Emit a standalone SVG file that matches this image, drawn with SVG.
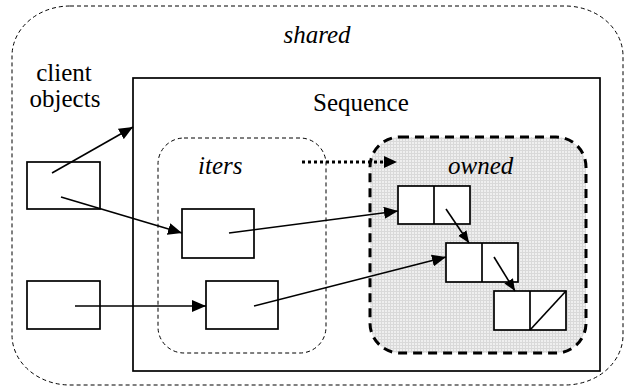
<svg xmlns="http://www.w3.org/2000/svg" width="626" height="387" viewBox="0 0 626 387">
  <style>
    text { font-family: "Liberation Serif", "Times New Roman", Times, serif; font-size: 25px; fill: #000; }
    .it { font-style: italic; }
    .box { fill: #fff; stroke: #000; stroke-width: 1.7; }
    .cell { fill: none; stroke: #000; stroke-width: 1.7; }
    .conn { fill: none; stroke: #000; stroke-width: 1.6; marker-end: url(#head); }
    .conn.short { marker-end: url(#headSmall); }
  </style>
  <defs>
    <marker id="head" viewBox="0 0 14 12" refX="14" refY="6" markerWidth="14" markerHeight="12" markerUnits="userSpaceOnUse" orient="auto">
      <path d="M0,0 L14,6 L0,12 z" fill="#000"/>
    </marker>
    <marker id="headSmall" viewBox="0 0 12 12" refX="12" refY="6" markerWidth="12" markerHeight="12" markerUnits="userSpaceOnUse" orient="auto">
      <path d="M0,1 L12,6 L0,11 z" fill="#000"/>
    </marker>
    <!-- fine grey screen used behind the owned nodes -->
    <pattern id="grid" width="3" height="3" patternUnits="userSpaceOnUse">
      <rect width="3" height="3" fill="#efefef"/>
      <path d="M0,0.5 H3 M0.5,0 V3" stroke="#d9d9d9" stroke-width="1"/>
    </pattern>
  </defs>

  <!-- shared region -->
  <g id="shared">
    <rect x="12" y="6" width="611" height="379" rx="58" ry="50" fill="none" stroke="#000" stroke-width="1" stroke-dasharray="4,3"/>
    <text class="it" x="317" y="43" text-anchor="middle">shared</text>
  </g>

  <!-- client objects -->
  <g id="client-objects">
    <text x="64" y="81" text-anchor="middle">client</text>
    <text x="65" y="107" text-anchor="middle">objects</text>
    <rect id="client1" class="box" x="27" y="162" width="73" height="47"/>
    <rect id="client2" class="box" x="27" y="281" width="73" height="48"/>
  </g>

  <!-- Sequence object -->
  <g id="sequence">
    <rect x="133" y="78" width="467" height="293" fill="none" stroke="#000" stroke-width="1.7"/>
    <text x="313" y="111">Sequence</text>
  </g>

  <!-- iterators -->
  <g id="iters">
    <rect x="158" y="138" width="168" height="215" rx="26" ry="26" fill="none" stroke="#000" stroke-width="1" stroke-dasharray="4,3"/>
    <text class="it" x="198" y="174">iters</text>
    <rect id="iter1" class="box" x="182" y="209" width="72" height="49"/>
    <rect id="iter2" class="box" x="206" y="281" width="72" height="48"/>
  </g>

  <!-- owned nodes -->
  <g id="owned">
    <rect x="370" y="137" width="216" height="216" rx="30" ry="30" fill="url(#grid)" stroke="#000" stroke-width="3" stroke-dasharray="9,6"/>
    <text class="it" x="448" y="174">owned</text>
  </g>
  <g id="node1">
    <rect class="box" x="398" y="186" width="72" height="38"/>
    <line class="cell" x1="434" y1="186" x2="434" y2="224"/>
  </g>
  <g id="node2">
    <rect class="box" x="446" y="243" width="72" height="39"/>
    <line class="cell" x1="482" y1="243" x2="482" y2="282"/>
  </g>
  <g id="node3">
    <rect class="box" x="494" y="291" width="72" height="39"/>
    <line class="cell" x1="530" y1="291" x2="530" y2="330"/>
    <line class="cell" x1="530" y1="330" x2="566" y2="291"/>
  </g>

  <!-- connectors -->
  <g id="connectors">
    <line class="conn" x1="52" y1="173" x2="133" y2="127"/>
    <line class="conn" x1="61" y1="197" x2="182" y2="233"/>
    <line class="conn" x1="75" y1="306" x2="206" y2="306"/>
    <line class="conn" x1="229" y1="233" x2="398" y2="211"/>
    <line class="conn" x1="254" y1="306" x2="446" y2="257"/>
    <line class="conn short" x1="446" y1="209" x2="469" y2="243"/>
    <line class="conn short" x1="494" y1="257" x2="515" y2="291"/>
    <line x1="302" y1="162" x2="384" y2="162" stroke="#000" stroke-width="3" stroke-dasharray="3,3"/>
    <path d="M384,156 L397,162 L384,168 z" fill="#000"/>
  </g>
</svg>
